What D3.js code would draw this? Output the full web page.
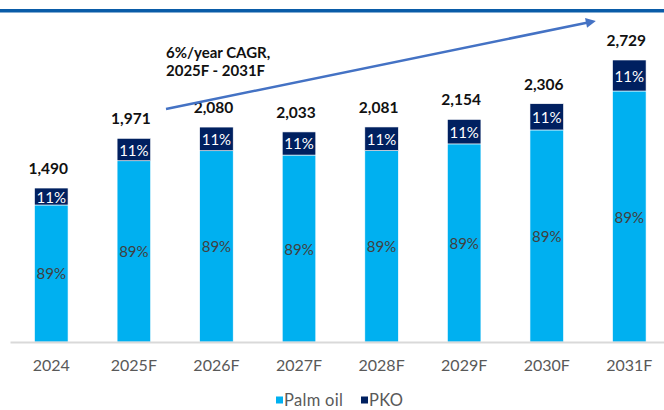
<!DOCTYPE html>
<html>
<head>
<meta charset="utf-8">
<script src="https://cdn.jsdelivr.net/npm/d3@7"></script>
<style>
  html, body { margin: 0; padding: 0; background: #fff; }
  svg { display: block; font-family: Lato, "Open Sans", sans-serif; }
</style>
</head>
<body>
<div id="chart"></div>
<script>
// ---- data ----
const categories = ["2024", "2025F", "2026F", "2027F", "2028F", "2029F", "2030F", "2031F"];
const totals     = [1490, 1971, 2080, 2033, 2081, 2154, 2306, 2729];
const palmOil    = [1326, 1754, 1851, 1809, 1852, 1917, 2052, 2429];
const pko        = [164, 217, 229, 224, 229, 237, 254, 300];
const palmShare  = ["89%", "89%", "89%", "89%", "89%", "89%", "89%", "89%"];
const pkoShare   = ["11%", "11%", "11%", "11%", "11%", "11%", "11%", "11%"];
const seriesNames = ["Palm oil", "PKO"];
const seriesColors = ["#00B0F0", "#002060"];
const cagrLines = ["6%/year CAGR,", "2025F - 2031F"];

const W = 664, H = 410;
const svg = d3.select("#chart").append("svg").attr("width", W).attr("height", H);

// top band
svg.append("rect").attr("x", 0).attr("y", 9).attr("width", W).attr("height", 3.5).attr("fill", "#0A5CA8");

const x = d3.scaleBand().domain(categories).range([10, 670.6]).paddingInner(0.594).paddingOuter(0.297);
const y = d3.scaleLinear().domain([0, 3000]).range([342, 32]);

const rows = categories.map((c, i) => ({ cat: c, palm: palmOil[i], pko: pko[i], total: totals[i], ps: palmShare[i], ks: pkoShare[i] }));
const stack = d3.stack().keys(["palm", "pko"])(rows);

// bars
stack.forEach((layer, li) => {
  svg.append("g").selectAll("rect").data(layer).join("rect")
    .attr("x", d => x(d.data.cat))
    .attr("width", x.bandwidth())
    .attr("y", d => y(d[1]))
    .attr("height", d => y(d[0]) - y(d[1]))
    .attr("fill", seriesColors[li])
    .attr("stroke", "#ffffff").attr("stroke-width", 0.6);
});

// axis
const axis = svg.append("g").attr("transform", "translate(0,342)")
  .call(d3.axisBottom(x).tickSize(0));
axis.select(".domain").attr("stroke", "#D9D9D9").attr("stroke-width", 2);
axis.selectAll("text").attr("y", 0).attr("dy", 29)
  .attr("font-family", "Lato, sans-serif").attr("font-size", 16).attr("fill", "#595959");

// inner labels
const palmLayer = stack[0], pkoLayer = stack[1];
svg.append("g").selectAll("text").data(palmLayer).join("text")
  .attr("x", d => x(d.data.cat) + x.bandwidth() / 2)
  .attr("y", d => (y(d[0]) + y(d[1])) / 2 + 6)
  .attr("text-anchor", "middle").attr("font-size", 15).attr("fill", "#404040")
  .text(d => d.data.ps);
svg.append("g").selectAll("text").data(pkoLayer).join("text")
  .attr("x", d => x(d.data.cat) + x.bandwidth() / 2)
  .attr("y", d => (y(d[0]) + y(d[1])) / 2 + 6)
  .attr("text-anchor", "middle").attr("font-size", 15).attr("fill", "#ffffff")
  .text(d => d.data.ks);

// totals
svg.append("g").selectAll("text").data(rows).join("text")
  .attr("x", d => x(d.cat) + x.bandwidth() / 2 - 3)
  .attr("y", d => y(d.total) - 14)
  .attr("text-anchor", "middle").attr("font-size", 15.5).attr("font-weight", "bold").attr("fill", "#111")
  .text(d => d3.format(",")(d.total));

// CAGR arrow
const defs = svg.append("defs");
defs.append("marker").attr("id", "arr").attr("viewBox", "0 0 10 10")
  .attr("refX", 2).attr("refY", 5).attr("markerWidth", 4.5).attr("markerHeight", 4)
  .attr("orient", "auto").attr("markerUnits", "strokeWidth")
  .append("path").attr("d", "M0,0 L10,5 L0,10 Z").attr("fill", "#4472C4");
svg.append("line").attr("x1", 166).attr("y1", 109).attr("x2", 588).attr("y2", 22.5)
  .attr("stroke", "#4472C4").attr("stroke-width", 2.5).attr("marker-end", "url(#arr)");

svg.append("g").selectAll("text").data(cagrLines).join("text")
  .attr("x", 166).attr("y", (d, i) => 58 + i * 17.5)
  .attr("font-size", 15).attr("font-weight", "bold").attr("fill", "#111")
  .text(d => d);

// legend
const leg = svg.append("g");
const legX = [276, 361];
seriesNames.forEach((n, i) => {
  leg.append("rect").attr("x", legX[i]).attr("y", 396.5).attr("width", 7).attr("height", 7).attr("fill", seriesColors[i]);
  leg.append("text").attr("x", legX[i] + 8).attr("y", 406).attr("font-size", 16.5).attr("letter-spacing", 0.3)
    .attr("fill", "#595959").text(n);
});
</script>
</body>
</html>
